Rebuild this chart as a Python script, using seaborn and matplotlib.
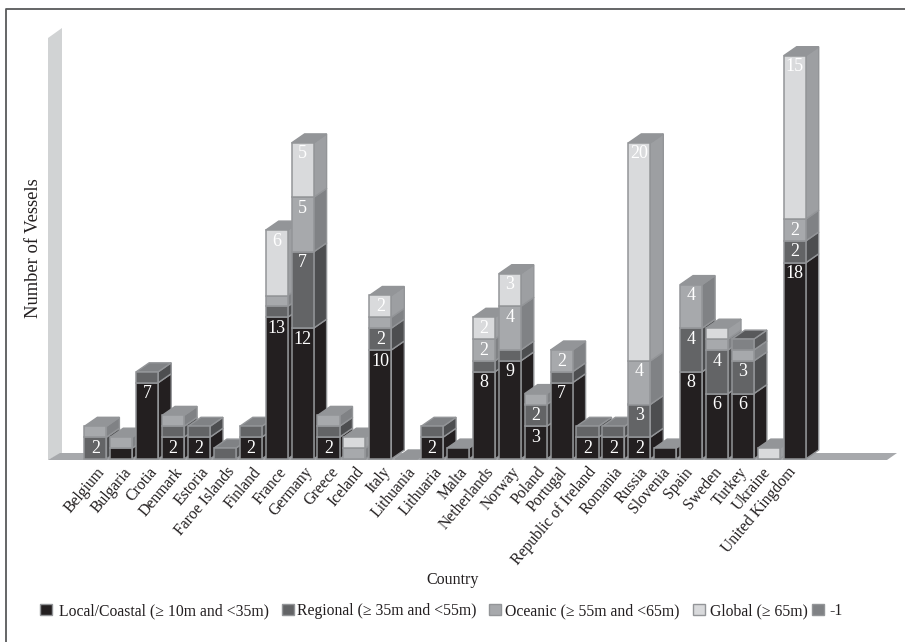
import matplotlib
matplotlib.use("Agg")
import matplotlib.pyplot as plt
from matplotlib.patches import Polygon, Patch
from matplotlib.lines import Line2D
from matplotlib.transforms import ScaledTranslation
import seaborn as sns
import numpy as np

countries = ["Belgium", "Bulgaria", "Crotia", "Denmark", "Estoria", "Faroe Islands", "Finland",
             "France", "Germany", "Greece", "Iceland", "Italy", "Lithuania", "Lithuaria", "Malta",
             "Netherlands", "Norway", "Poland", "Portugal", "Republic of Ireland", "Romania",
             "Russia", "Slovenia", "Spain", "Sweden", "Turkey", "Ukraine", "United Kingdom"]
local_coastal = [0, 1, 7, 2, 2, 0, 2, 13, 12, 2, 0, 10, 0, 2, 1, 8, 9, 3, 7, 2, 2, 2, 1, 8, 6, 6, 0, 18]
regional      = [2, 0, 1, 1, 1, 1, 1, 1, 7, 1, 0, 2, 0, 1, 0, 1, 1, 2, 1, 1, 1, 3, 0, 4, 4, 3, 0, 2]
oceanic       = [1, 1, 0, 1, 0, 0, 0, 1, 5, 1, 1, 1, 0, 0, 0, 2, 4, 1, 2, 0, 0, 4, 0, 4, 1, 1, 0, 2]
global_class  = [0, 0, 0, 0, 0, 0, 0, 6, 5, 0, 1, 2, 0, 0, 0, 2, 3, 0, 0, 0, 0, 20, 0, 0, 1, 0, 1, 15]
minus_one     = [0] * 25 + [1, 0, 0]

series_names = ["Local/Coastal (≥ 10m and <35m)", "Regional (≥ 35m and <55m)",
                "Oceanic (≥ 55m and <65m)", "Global (≥ 65m)", "-1"]
series_values = [local_coastal, regional, oceanic, global_class, minus_one]
front_colors = ["#231f20", "#636466", "#a7a9ac", "#d9dadc", "#808285"]
side_colors = ["#231f20", "#4d4e50", "#808285", "#9d9fa2", "#58595b"]
top_colors = ["#939598", "#808285", "#939598", "#939598", "#58595b"]
edge = "#939598"

W, H = 905, 642
X0, STEP = 95.4, 25.9
Y0, UNIT = 459.0, 10.9
DX, DY = 13 / STEP, 9 / UNIT

sns.set_theme(style="white")
plt.rcParams["font.family"] = ["Liberation Serif", "DejaVu Serif"]

fig = plt.figure(figsize=(W / 100, H / 100), dpi=100, facecolor="white")
L, R, T, B = 48, 897, 28, 460
ax = fig.add_axes([L / W, 1 - B / H, (R - L) / W, (B - T) / H])
ax.patch.set_alpha(0)


def px(x, y):
    return ((x - X0) / STEP, (Y0 - y) / UNIT)


ax.add_patch(Polygon([px(48, 38), px(62, 28), px(62, 453), px(48, 460)], closed=True,
                     fc="#d1d3d4", ec="none", zorder=1, clip_on=False))
ax.add_patch(Polygon([px(48, 460), px(60, 453), px(897, 453), px(887, 460)], closed=True,
                     fc="#a7a9ac", ec="none", zorder=2, clip_on=False))

bottoms = np.zeros(len(countries))
for s, (vals, fc, sc) in enumerate(zip(series_values, front_colors, side_colors)):
    v = np.array(vals, dtype=float)
    sns.barplot(x=countries, y=v, bottom=bottoms, order=countries, color=fc, width=0.85,
                saturation=1, edgecolor=edge, linewidth=1.1, ax=ax, legend=False)
    for i, bar in enumerate(ax.containers[-1]):
        base_z = 10 + i * 3
        bar.set_zorder(base_z + 1)
        bar.set_clip_on(False)
        if v[i] == 0:
            bar.set_visible(False)
            continue
        x1 = bar.get_x() + bar.get_width()
        y0, y1 = bottoms[i], bottoms[i] + v[i]
        ax.add_patch(Polygon([(x1, y0), (x1 + DX, y0 + DY), (x1 + DX, y1 + DY), (x1, y1)],
                             closed=True, fc=sc, ec=edge, lw=1.0, zorder=base_z, clip_on=False))
        if v[i] >= 2:
            ax.text(i, y1 - 11 / UNIT, f"{int(v[i])}", color="white", ha="center", va="center",
                    fontsize=13, zorder=base_z + 2)
    bottoms = bottoms + v

width = 0.85
for i, tot in enumerate(bottoms):
    top_series = max((s for s in range(5) if series_values[s][i] > 0), default=0)
    x0, x1 = i - width / 2, i + width / 2
    ax.add_patch(Polygon([(x0, tot), (x1, tot), (x1 + DX, tot + DY), (x0 + DX, tot + DY)],
                         closed=True, fc=top_colors[top_series], ec=edge, lw=1.0,
                         zorder=10 + i * 3, clip_on=False))

ax.set_xlim((L - X0) / STEP, (R - X0) / STEP)
ax.set_ylim((Y0 - B) / UNIT, (Y0 - T) / UNIT)
ax.set_yticks([])
for sp in ax.spines.values():
    sp.set_visible(False)
ax.tick_params(axis="x", length=0, pad=3)
ax.set_xticks(range(len(countries)))
ax.set_xticklabels(countries, rotation=50, ha="right", rotation_mode="anchor", fontsize=11.3, color="#231f20")
ax.set_xlabel("")
ax.set_ylabel("")

# small horizontal label nudges, in pixels
nudges = [1] * 18 + [-3, 0, 0, 0, -4, -7, -4, -5, -7, -8]
for lab, n in zip(ax.get_xticklabels(), nudges):
    lab.set_transform(lab.get_transform() + ScaledTranslation(n / 100, 0, fig.dpi_scale_trans))

fig.text(453 / W, 1 - 580 / H, "Country", ha="center", va="center", fontsize=11.5, color="#231f20")
fig.text(33 / W, 1 - 248 / H, "Number of Vessels", rotation=90, ha="center", va="center",
         fontsize=13.3, color="#231f20")

# one legend per entry so that the uneven spacing of the original is kept
legend_x = [40, 282, 489, 693, 812]
legend_pad = [0.44, 0.19, 0.25, 0.32, 0.38]
for name, c, lx, pad in zip(series_names, front_colors, legend_x, legend_pad):
    leg = fig.legend([Patch(fc=c, ec=edge, lw=1)], [name], frameon=False, loc="center left",
                     bbox_to_anchor=(lx / W, 1 - 611 / H), borderaxespad=0, borderpad=0,
                     fontsize=11.35, handlelength=0.75, handleheight=0.75, handletextpad=pad,
                     labelcolor="#231f20")

fig.add_artist(Line2D([6 / W, 6 / W, 1], [0, 1 - 8.5 / H, 1 - 8.5 / H], transform=fig.transFigure,
                      color="#58595b", lw=1.3))
fig.savefig("out.png", dpi=100)
